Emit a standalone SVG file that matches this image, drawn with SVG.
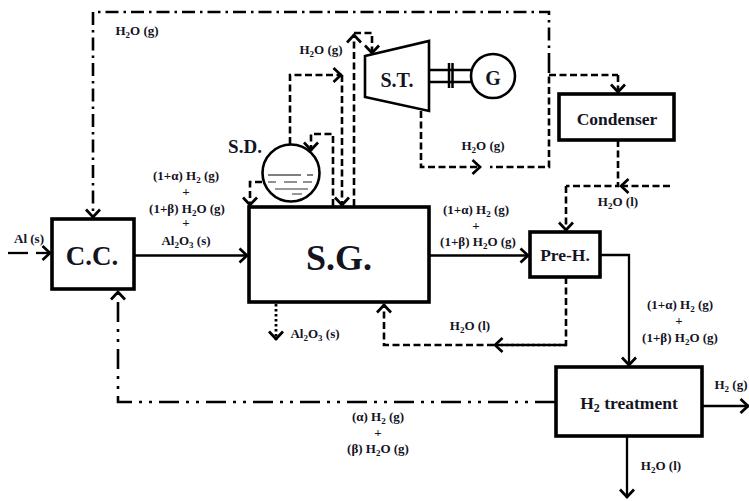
<svg xmlns="http://www.w3.org/2000/svg" width="749" height="501" viewBox="0 0 749 501">
<defs>
<marker id="a" markerUnits="userSpaceOnUse" markerWidth="18" markerHeight="18" refX="12" refY="9" orient="auto"><path d="M3.500 2L11 9L3.500 16" fill="none" stroke="#000" stroke-width="2.700"/></marker>
</defs>
<style>
.b{fill:#fff;stroke:#000;stroke-width:3.600}
.t{fill:#fff;stroke:#000;stroke-width:2.600}
.c path{fill:none;stroke:#000}
.s{stroke-width:2.300}
.d{stroke-width:2.600;stroke-dasharray:7 3.500}
.f{stroke-width:2.600;stroke-dasharray:13 5 2.500 5}
.g{stroke-width:2.600;stroke-dasharray:20 7 3 7 3 7}
.o{stroke-width:2.800;stroke-dasharray:2.500 2.500}
.m{marker-end:url(#a)}
text{font-family:"Liberation Serif","Times New Roman",serif;font-weight:bold;fill:#14141f;text-anchor:middle}
.l{font-size:13px}
.u{font-size:9px}
</style>
<rect width="749" height="501" fill="#fff"/>
<g id="connectors" class="c">
<path class="s m" d="M36 253H51"/>
<path class="s" d="M8 253H28"/>
<path class="s m" d="M135 255.500H248"/>
<path class="s m" d="M430 255.500H529"/>
<path class="s" d="M600 255H629V300"/>
<path class="s m" d="M629 300V366"/>
<path class="s m" d="M702 406H749"/>
<path class="s m" d="M627 436V498"/>
<path class="o m" d="M276 304V340"/>
<path class="f m" d="M549 66V12H93V218"/>
<path class="d" d="M549 66V167H490"/>
<path class="d m" d="M421 111V167H481"/>
<path class="d" d="M549 75H618"/>
<path class="d m" d="M618 75V93"/>
<path class="d" d="M618 140V186H566"/>
<path class="d m" d="M670 186H620"/>
<path class="d m" d="M566 186V231"/>
<path class="d" d="M566 277V345H498"/>
<path class="d m" d="M566 345H494"/>
<path class="d m" d="M494 345H384V304"/>
<path class="g m" d="M555 402H118V291"/>
<path class="d m" d="M290 144V75H342"/>
<path class="d m" d="M342 75V206"/>
<path class="d m" d="M333 206V134H311V151"/>
<path class="d m" d="M262 182H250V206"/>
<path class="d m" d="M354 206V34"/>
<path class="d m" d="M354 33H372V54"/>
</g>
<g id="cc"><rect class="b" x="52" y="219" width="82" height="70"/><text x="92" y="265" font-size="27">C.C.</text></g>
<g id="sg"><rect class="b" x="249" y="207" width="180" height="95"/><text x="339" y="270" font-size="36">S.G.</text></g>
<g id="preh"><rect class="b" x="530" y="232" width="70" height="45"/><text x="565" y="261" font-size="17.500">Pre-H.</text></g>
<g id="condenser"><rect class="b" x="559" y="94" width="115" height="46"/><text x="617" y="125" font-size="17.500">Condenser</text></g>
<g id="h2t"><rect class="b" x="556" y="367" width="146" height="69"/><text x="629" y="409" font-size="17.500">H<tspan font-size="12" dy="3">2</tspan><tspan dy="-3"> treatment</tspan></text></g>
<g id="st"><path class="t" d="M365 56L429 41V111L365 97Z"/><text x="397" y="87" font-size="20">S.T.</text></g>
<g id="coupling" fill="none" stroke="#000"><path stroke-width="2.500" d="M429 70H471M429 82H471M449 63V88M452.500 63V88"/></g>
<g id="generator"><circle class="t" cx="493" cy="76" r="22"/><text x="493" y="85" font-size="20">G</text></g>
<g id="sd"><circle class="t" cx="291" cy="173" r="28.500"/>
<path d="M268 175H301M307 175H313" stroke="#000" stroke-width="1.200"/>
<path d="M268 182H276M284 182H297M303 182H312" stroke="#222" stroke-width="1.200"/>
<path d="M275 189H308M292 194H302" stroke="#777" stroke-width="1.500"/>
<text x="245" y="153" font-size="19">S.D.</text></g>
<g id="labels">
<text class="l" x="137" y="35">H<tspan class="u" dy="3">2</tspan><tspan dy="-3">O (g)</tspan></text>
<text class="l" x="321" y="54">H<tspan class="u" dy="3">2</tspan><tspan dy="-3">O (g)</tspan></text>
<text class="l" x="483" y="150">H<tspan class="u" dy="3">2</tspan><tspan dy="-3">O (g)</tspan></text>
<text class="l" x="618" y="206">H<tspan class="u" dy="3">2</tspan><tspan dy="-3">O (l)</tspan></text>
<text class="l" x="29" y="243">Al (s)</text>
<text class="l" x="186" y="180">(1+α) H<tspan class="u" dy="3">2</tspan><tspan dy="-3"> (g)</tspan></text>
<text class="l" x="186" y="196">+</text>
<text class="l" x="187" y="213">(1+β) H<tspan class="u" dy="3">2</tspan><tspan dy="-3">O (g)</tspan></text>
<text class="l" x="186" y="227">+</text>
<text class="l" x="186" y="245">Al<tspan class="u" dy="3">2</tspan><tspan dy="-3">O</tspan><tspan class="u" dy="3">3</tspan><tspan dy="-3"> (s)</tspan></text>
<text class="l" x="476" y="214">(1+α) H<tspan class="u" dy="3">2</tspan><tspan dy="-3"> (g)</tspan></text>
<text class="l" x="476" y="230">+</text>
<text class="l" x="478" y="246">(1+β) H<tspan class="u" dy="3">2</tspan><tspan dy="-3">O (g)</tspan></text>
<text class="l" x="680" y="309">(1+α) H<tspan class="u" dy="3">2</tspan><tspan dy="-3"> (g)</tspan></text>
<text class="l" x="679" y="325">+</text>
<text class="l" x="680" y="342">(1+β) H<tspan class="u" dy="3">2</tspan><tspan dy="-3">O (g)</tspan></text>
<text class="l" x="731" y="389">H<tspan class="u" dy="3">2</tspan><tspan dy="-3"> (g)</tspan></text>
<text class="l" x="661" y="470">H<tspan class="u" dy="3">2</tspan><tspan dy="-3">O (l)</tspan></text>
<text class="l" x="315" y="338">Al<tspan class="u" dy="3">2</tspan><tspan dy="-3">O</tspan><tspan class="u" dy="3">3</tspan><tspan dy="-3"> (s)</tspan></text>
<text class="l" x="470" y="330">H<tspan class="u" dy="3">2</tspan><tspan dy="-3">O (l)</tspan></text>
<text class="l" x="378" y="421">(α) H<tspan class="u" dy="3">2</tspan><tspan dy="-3"> (g)</tspan></text>
<text class="l" x="378" y="437">+</text>
<text class="l" x="378" y="453">(β) H<tspan class="u" dy="3">2</tspan><tspan dy="-3">O (g)</tspan></text>
</g>
</svg>
